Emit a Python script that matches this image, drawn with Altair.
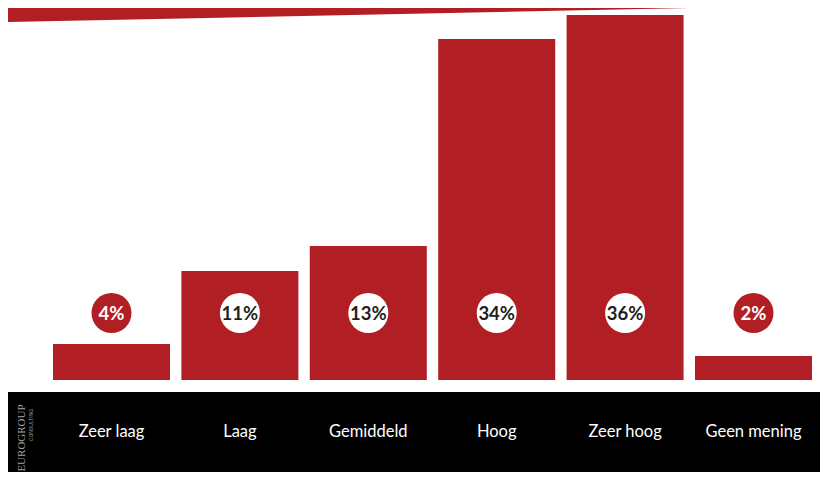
import altair as alt
import pandas as pd

categories = ["Zeer laag", "Laag", "Gemiddeld", "Hoog", "Zeer hoog", "Geen mening"]
values = [3.6, 10.9, 13.4, 34.1, 36.5, 2.4]
labels = ["4%", "11%", "13%", "34%", "36%", "2%"]
inside = ["out", "in", "in", "in", "in", "out"]

RED = "#B11F24"
DARK = "#231F20"
FONT = "Lato, DejaVu Sans Condensed, sans-serif"

df = pd.DataFrame({"cat": categories, "value": values, "label": labels, "inside": inside})
one = pd.DataFrame({"a": [0]})

W, H = 812, 464
xscale = alt.Scale(domain=categories, paddingInner=0.0888, paddingOuter=0.2064, align=0.849)
X = alt.X("cat:N", scale=xscale, axis=None, sort=categories)
yscale = alt.Scale(domain=[-9.2, 37.2], nice=False, zero=False)

base = alt.Chart(df)

wedge = alt.Chart(one).mark_point(
    shape="M-1,0L1,0L-1,0.041Z", filled=True, fill=RED, opacity=1, strokeWidth=0,
).encode(x=alt.value(341), y=alt.value(0), size=alt.value(682 * 682))

bars = base.mark_bar(color=RED).encode(
    x=X,
    y=alt.Y("value:Q", scale=yscale, axis=None),
    y2=alt.datum(0),
)

band = alt.Chart(one).mark_rect(color="black").encode(
    x=alt.value(0), x2=alt.value(W), y=alt.value(384), y2=alt.value(H)
)

circles = base.mark_circle(opacity=1, size=1600).encode(
    x=X,
    y=alt.value(305),
    color=alt.condition(alt.datum.inside == "in", alt.value("white"), alt.value(RED)),
)

pct = base.mark_text(font=FONT, fontWeight="bold", fontSize=18.5, baseline="middle", align="center", dy=1).encode(
    x=X,
    y=alt.value(305),
    text="label:N",
    color=alt.condition(alt.datum.inside == "in", alt.value(DARK), alt.value("white")),
)

catlab = base.mark_text(font=FONT, fontSize=16.5, color="white", baseline="middle", align="center").encode(
    x=X, y=alt.value(424), text="cat:N"
)

logo1 = alt.Chart(one).mark_text(
    text="EUROGROUP", font="Liberation Serif, DejaVu Serif, serif", fontSize=11, color="#A0A0A0",
    angle=270, align="center", baseline="middle",
).encode(x=alt.value(14), y=alt.value(430))

logo2 = alt.Chart(one).mark_text(
    text="CONSULTING", font="Liberation Sans, DejaVu Sans, sans-serif", fontSize=5, color="#A0A0A0",
    angle=270, align="center", baseline="middle",
).encode(x=alt.value(22.5), y=alt.value(417))

chart = alt.layer(wedge, bars, band, circles, pct, catlab, logo1, logo2).properties(
    width=W, height=H, padding=0, autosize="none"
).configure_view(stroke=None)

chart.save("out.html", embed_options={"renderer": "svg", "actions": False})
